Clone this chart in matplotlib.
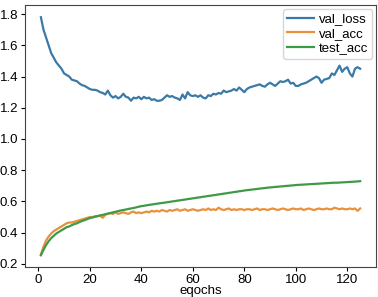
import numpy as np
import matplotlib
matplotlib.use('Agg')
import matplotlib.pyplot as plt

plt.rcParams['font.family'] = ['Liberation Sans', 'DejaVu Sans']

epochs = list(range(1, 126))

val_loss = [
    1.78, 1.70, 1.65, 1.60, 1.55, 1.52, 1.49, 1.47, 1.45, 1.42,
    1.41, 1.40, 1.38, 1.375, 1.37, 1.355, 1.345, 1.34, 1.33, 1.32,
    1.315, 1.315, 1.31, 1.30, 1.295, 1.285, 1.31, 1.28, 1.265, 1.275,
    1.26, 1.27, 1.29, 1.27, 1.265, 1.245, 1.265, 1.26, 1.27, 1.255,
    1.27, 1.26, 1.265, 1.25, 1.255, 1.245, 1.245, 1.25, 1.265, 1.28,
    1.27, 1.275, 1.265, 1.26, 1.25, 1.285, 1.26, 1.30, 1.28, 1.275,
    1.28, 1.27, 1.28, 1.265, 1.26, 1.28, 1.275, 1.29, 1.285, 1.295,
    1.29, 1.31, 1.30, 1.305, 1.31, 1.32, 1.31, 1.33, 1.315, 1.30,
    1.32, 1.33, 1.335, 1.34, 1.345, 1.35, 1.34, 1.335, 1.35, 1.36,
    1.35, 1.34, 1.355, 1.37, 1.365, 1.37, 1.38, 1.355, 1.36, 1.34,
    1.34, 1.35, 1.355, 1.36, 1.37, 1.38, 1.39, 1.40, 1.39, 1.36,
    1.38, 1.385, 1.39, 1.42, 1.41, 1.44, 1.47, 1.43, 1.45, 1.46,
    1.42, 1.40, 1.45, 1.46, 1.45,
]

val_acc = [
    0.26, 0.31, 0.35, 0.375, 0.395, 0.41, 0.42, 0.43, 0.44, 0.45,
    0.46, 0.465, 0.465, 0.47, 0.475, 0.48, 0.485, 0.49, 0.495, 0.50,
    0.50, 0.505, 0.505, 0.51, 0.495, 0.515, 0.52, 0.525, 0.52, 0.53,
    0.52, 0.525, 0.53, 0.525, 0.52, 0.53, 0.535, 0.525, 0.53, 0.525,
    0.53, 0.535, 0.53, 0.54, 0.535, 0.54, 0.535, 0.545, 0.54, 0.535,
    0.545, 0.54, 0.545, 0.55, 0.54, 0.545, 0.55, 0.54, 0.545, 0.55,
    0.545, 0.54, 0.545, 0.55, 0.545, 0.555, 0.545, 0.55, 0.545, 0.56,
    0.55, 0.545, 0.55, 0.555, 0.545, 0.55, 0.545, 0.55, 0.55, 0.545,
    0.55, 0.55, 0.545, 0.55, 0.555, 0.545, 0.55, 0.55, 0.545, 0.55,
    0.555, 0.55, 0.545, 0.55, 0.555, 0.55, 0.545, 0.55, 0.555, 0.55,
    0.55, 0.555, 0.545, 0.55, 0.555, 0.55, 0.545, 0.55, 0.555, 0.55,
    0.55, 0.555, 0.55, 0.55, 0.56, 0.555, 0.55, 0.555, 0.55, 0.55,
    0.555, 0.55, 0.555, 0.54, 0.555,
]

test_acc = [
    0.255, 0.29, 0.32, 0.345, 0.365, 0.38, 0.395, 0.405, 0.415, 0.425,
    0.435, 0.44, 0.448, 0.455, 0.46, 0.468, 0.475, 0.48, 0.487, 0.493,
    0.497, 0.502, 0.506, 0.51, 0.514, 0.518, 0.522, 0.526, 0.53, 0.534,
    0.538, 0.542, 0.545, 0.548, 0.552, 0.555, 0.558, 0.562, 0.566, 0.57,
    0.572, 0.575, 0.578, 0.58, 0.583, 0.585, 0.588, 0.59, 0.592, 0.595,
    0.597, 0.6, 0.602, 0.605, 0.607, 0.61, 0.612, 0.615, 0.617, 0.62,
    0.622, 0.625, 0.627, 0.63, 0.632, 0.635, 0.637, 0.64, 0.642, 0.645,
    0.647, 0.65, 0.652, 0.655, 0.657, 0.66, 0.662, 0.665, 0.667, 0.67,
    0.672, 0.674, 0.676, 0.678, 0.68, 0.682, 0.684, 0.686, 0.688, 0.69,
    0.691, 0.693, 0.694, 0.696, 0.697, 0.699, 0.7, 0.702, 0.703, 0.705,
    0.706, 0.707, 0.708, 0.709, 0.71, 0.711, 0.712, 0.713, 0.714, 0.715,
    0.716, 0.717, 0.718, 0.719, 0.72, 0.72, 0.721, 0.722, 0.723, 0.724,
    0.725, 0.726, 0.727, 0.728, 0.73,
]

fig = plt.figure(figsize=(3.78, 2.97), dpi=100)
ax = fig.add_axes([0.066, 0.101, 0.929, 0.882])

ax.plot(epochs, val_loss, label='val_loss', color='#3b7aa6', linewidth=1.6)
ax.plot(epochs, val_acc, label='val_acc', color='#e8913c', linewidth=1.6)
ax.plot(epochs, test_acc, label='test_acc', color='#3f9a48', linewidth=1.6)

ax.set_ylim(0.18, 1.858)
ax.set_yticks([0.2, 0.4, 0.6, 0.8, 1.0, 1.2, 1.4, 1.6, 1.8])
ax.set_xticks([0, 20, 40, 60, 80, 100, 120])
ax.tick_params(labelsize=9.5, length=3, pad=2)
for s in ax.spines.values():
    s.set_color('#444444')
ax.set_xlabel('eqochs', fontsize=9.5, labelpad=-1)
ax.legend(loc='upper right', fontsize=9.5, handlelength=2, borderpad=0.3,
          labelspacing=0.2, handletextpad=0.4, borderaxespad=0.3)

fig.savefig('out.png', dpi=100)
